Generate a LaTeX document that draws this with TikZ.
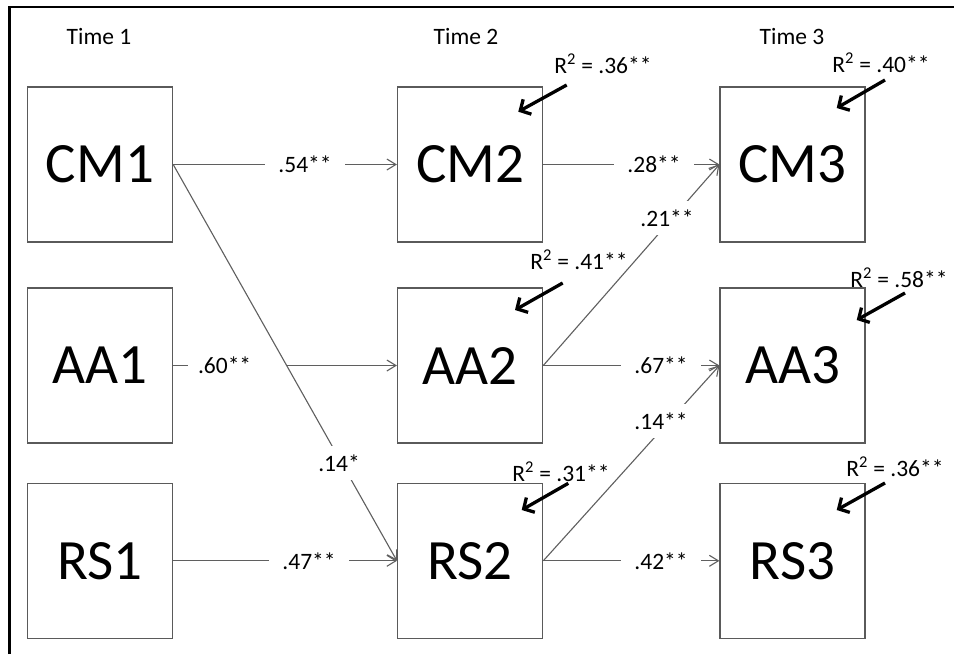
\documentclass[tikz,border=0pt]{standalone}
\usepackage{fontspec}
\setmainfont{Carlito}
\usetikzlibrary{arrows.meta}
\definecolor{boxgray}{RGB}{90,90,90}
\definecolor{linegray}{RGB}{95,95,95}
\begin{document}
\begin{tikzpicture}[x=1pt,y=-1pt,
  box/.style={draw=boxgray, line width=1.4pt, minimum width=145pt, minimum height=155pt, inner sep=0pt, font=\fontsize{57}{60}\selectfont},
  conn/.style={draw=linegray, line width=1.1pt, -{Straight Barb[length=9pt,width=11pt]}},
  lbl/.style={font=\fontsize{23.5}{25}\selectfont, fill=white, inner xsep=13pt, inner ysep=3pt},
  dlbl/.style={font=\fontsize{23.5}{25}\selectfont, fill=white, inner xsep=3pt, inner ysep=9pt},
  rsq/.style={font=\fontsize{23.5}{25}\selectfont, inner sep=0pt},
  tlbl/.style={font=\fontsize{23.5}{25}\selectfont, inner sep=0pt},
  thick arrow/.style={draw=black, line width=3.3pt, -{Straight Barb[length=8pt,width=17pt]}}
]
\useasboundingbox (0,0) rectangle (954,654);
\fill[white] (0,0) rectangle (954,654);
% frame
\draw[line width=2.3pt] (9.5,654) -- (9.5,7) -- (954,7);

% time headings
\node[tlbl] (t1) at (99,36) {Time 1};
\node[tlbl] (t2) at (466,36) {Time 2};
\node[tlbl] (t3) at (792,36) {Time 3};

% boxes
\node[box] (CM1) at (100,164.5) {CM1};
\node[box] (AA1) at (100,365.5) {AA1};
\node[box] (RS1) at (100,560.8) {RS1};
\node[box] (CM2) at (470.1,164.5) {CM2};
\node[box] (AA2) at (470.1,365.5) {AA2};
\node[box] (RS2) at (470.1,560.8) {RS2};
\node[box] (CM3) at (792.6,164.5) {CM3};
\node[box] (AA3) at (792.6,365.5) {AA3};
\node[box] (RS3) at (792.6,560.8) {RS3};

% Time 1 -> Time 2
\draw[conn] (CM1) -- (CM2);
\node[lbl] (l54) at (305,164.5) {.54**};
\draw[conn] (AA1) -- (AA2);
\node[lbl, text width=78pt, align=left, inner xsep=10pt] (l60) at (237,365.5) {.60**};
\draw[conn] (RS1) -- (RS2);
\node[lbl] (l47) at (309,560.8) {.47**};
\draw[conn] (CM1.east) -- (RS2.west);
\node[dlbl] (l14a) at (339,463) {.14*};

% Time 2 -> Time 3
\draw[conn] (CM2) -- (CM3);
\node[lbl] (l28) at (654,164.5) {.28**};
\draw[conn] (AA2) -- (AA3);
\node[lbl] (l67) at (661,365.5) {.67**};
\draw[conn] (RS2) -- (RS3);
\node[lbl] (l42) at (661,560.8) {.42**};
\draw[conn] (AA2.east) -- (CM3.west);
\node[dlbl] (l21) at (667,218) {.21**};
\draw[conn] (RS2.east) -- (AA3.west);
\node[dlbl] (l14b) at (661,421) {.14**};

% R squared
\node[rsq] (r2cm2) at (603,64) {R\textsuperscript{2} = .36**};
\node[rsq] (r2cm3) at (881,63) {R\textsuperscript{2} = .40**};
\node[rsq] (r2aa2) at (579,260) {R\textsuperscript{2} = .41**};
\node[rsq] (r2aa3) at (899,278) {R\textsuperscript{2} = .58**};
\node[rsq] (r2rs2) at (561,471.5) {R\textsuperscript{2} = .31**};
\node[rsq] (r2rs3) at (895,466.5) {R\textsuperscript{2} = .36**};

\coordinate (a1s) at (566.7,85);   \coordinate (a1e) at (518.3,111.7);
\coordinate (a2s) at (885,80);     \coordinate (a2e) at (836.7,108);
\coordinate (a3s) at (562.7,283);  \coordinate (a3e) at (515,310);
\coordinate (a4s) at (905,293);    \coordinate (a4e) at (856.7,320);
\coordinate (a5s) at (568.3,483.3);\coordinate (a5e) at (521.7,510);
\coordinate (a6s) at (885,483);    \coordinate (a6e) at (836.7,510);
\draw[thick arrow] (a1s) -- (a1e);
\draw[thick arrow] (a2s) -- (a2e);
\draw[thick arrow] (a3s) -- (a3e);
\draw[thick arrow] (a4s) -- (a4e);
\draw[thick arrow] (a5s) -- (a5e);
\draw[thick arrow] (a6s) -- (a6e);
\end{tikzpicture}
\end{document}
